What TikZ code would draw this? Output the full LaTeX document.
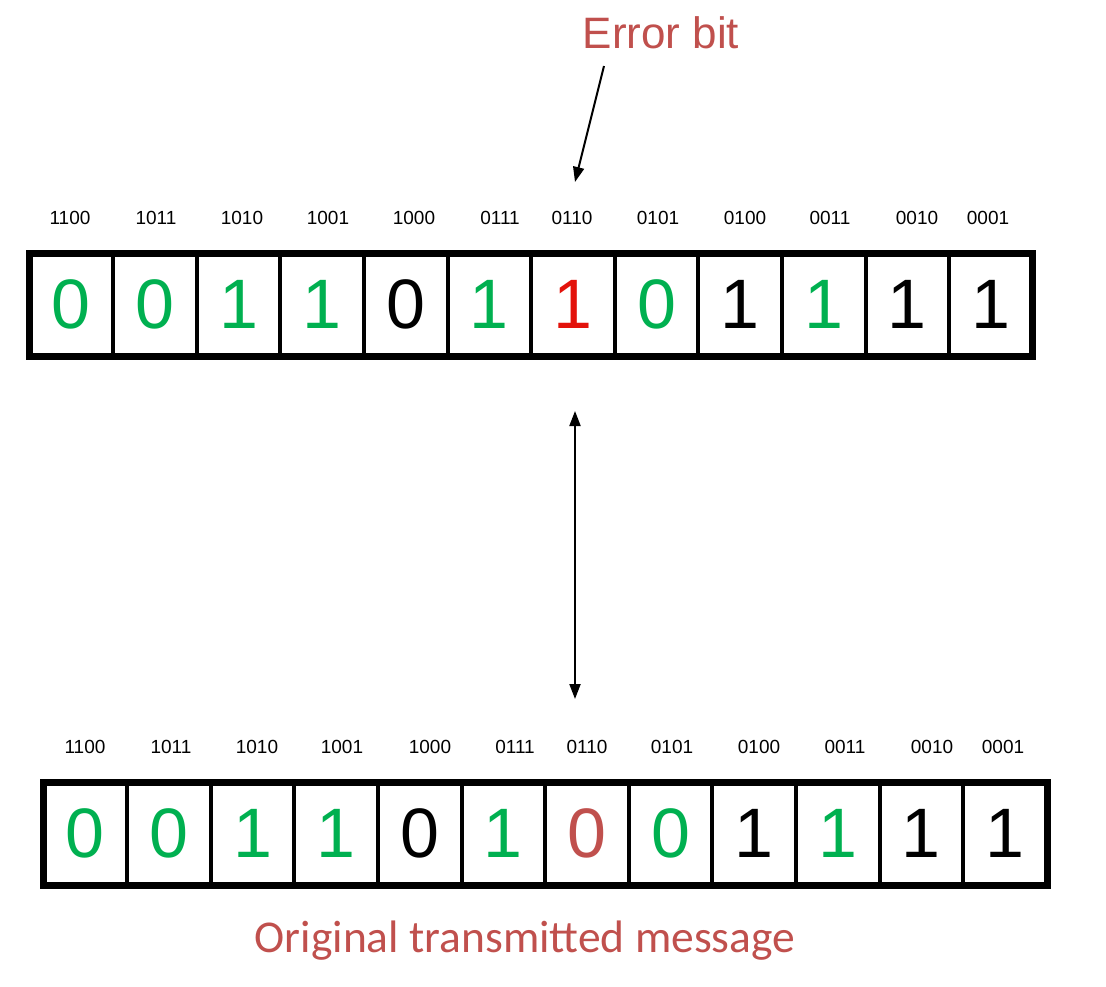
\documentclass[tikz,border=0pt]{standalone}
\usepackage{fontspec}
\setmainfont{Liberation Sans}
\newfontfamily\calib{Carlito}
\usetikzlibrary{arrows.meta}
\definecolor{gr}{HTML}{00B050}
\definecolor{rd}{HTML}{E3120B}
\definecolor{dr}{HTML}{C0504D}
\tikzset{
  cell/.style={draw=black, line width=4pt, minimum width=83.6pt, minimum height=102.5pt, inner sep=0pt, outer sep=0pt, anchor=north west, font=\fontsize{70}{70}\selectfont},
  lbl/.style={font=\fontsize{19}{19}\selectfont, inner sep=0pt},
  outer/.style={draw=black, line width=7pt},
  arr/.style={line width=2pt, -{Triangle[length=15pt,width=11pt]}},
  darr/.style={line width=2pt, {Triangle[length=15pt,width=11pt]}-{Triangle[length=15pt,width=11pt]}}
}
\begin{document}
\begin{tikzpicture}[x=1pt,y=-1pt]
\useasboundingbox (0,0) rectangle (1106,986);
% top row
\foreach \v/\c [count=\i from 0] in {0/gr,0/gr,1/gr,1/gr,0/black,1/gr,1/rd,0/gr,1/black,1/gr,1/black,1/black}{
  \node[cell, text=\c] (t\i) at ({29.5+83.6*\i},253.5) {\v};
}
\draw[outer] (29.5,253.5) rectangle (1032.5,356);
\foreach \l/\x [count=\i from 0] in {1100/70,1011/156,1010/242,1001/328,1000/414,0111/500,0110/572,0101/658,0100/745,0011/830,0010/917,0001/988}{
  \node[lbl] (tl\i) at (\x,218) {\l};
}
% bottom row
\foreach \v/\c [count=\i from 0] in {0/gr,0/gr,1/gr,1/gr,0/black,1/gr,0/dr,0/gr,1/black,1/gr,1/black,1/black}{
  \node[cell, text=\c] (b\i) at ({43.5+83.6*\i},782) {\v};
}
\draw[outer] (43.5,782) rectangle (1047.5,885);
\foreach \l/\x [count=\i from 0] in {1100/85,1011/171,1010/257,1001/342,1000/430,0111/515,0110/587,0101/672,0100/759,0011/845,0010/932,0001/1003}{
  \node[lbl] (bl\i) at (\x,747) {\l};
}
\node[font=\fontsize{44}{44}\selectfont, text=dr, inner sep=0pt] (err) at (661,33) {Error bit};
\coordinate (e1) at (604,66);
\coordinate (e2) at (575,182);
\draw[arr] (e1) -- (e2);
\coordinate (d1) at (575,411);
\coordinate (d2) at (575,699);
\draw[darr] (d1) -- (d2);
\node[font=\calib\fontsize{45.5}{45.5}\selectfont, text=dr, inner sep=0pt, anchor=base] (orig) at (525,952) {Original transmitted message};
\end{tikzpicture}
\end{document}
